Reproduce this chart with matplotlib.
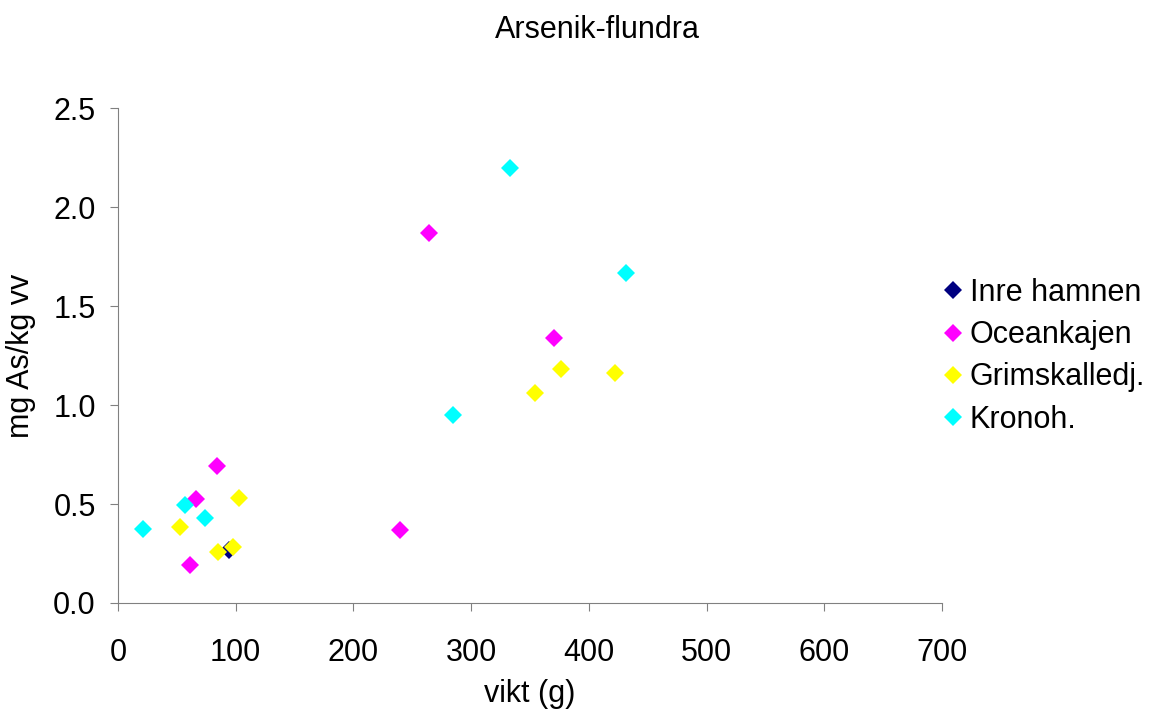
import matplotlib.pyplot as plt

plt.rcParams['font.family'] = ['Liberation Sans', 'DejaVu Sans']

# vikt (g) and mg As/kg vv per site
inre_x = [94]
inre_y = [0.27]
ocean_x = [84, 66, 61, 240, 264, 370]
ocean_y = [0.69, 0.525, 0.19, 0.37, 1.87, 1.34]
grim_x = [103, 53, 85, 98, 354, 376, 422]
grim_y = [0.53, 0.385, 0.26, 0.285, 1.06, 1.18, 1.16]
krono_x = [21, 57, 74, 285, 333, 432]
krono_y = [0.375, 0.495, 0.43, 0.95, 2.2, 1.67]

fig = plt.figure(figsize=(11.49, 7.17), dpi=100)
ax = fig.add_axes([0.1027, 0.159, 0.7171, 0.69])

ms = 9.2
ax.plot(inre_x, inre_y, 'D', color='#000080', ms=ms, mew=0, label='Inre hamnen')
ax.plot(ocean_x, ocean_y, 'D', color='#ff00ff', ms=ms, mew=0, label='Oceankajen')
ax.plot(grim_x, grim_y, 'D', color='#ffff00', ms=ms, mew=0, label='Grimskalledj.')
ax.plot(krono_x, krono_y, 'D', color='#00ffff', ms=ms, mew=0, label='Kronoh.')

ax.set_xlim(0, 700)
ax.set_ylim(0, 2.5)
ax.set_xticks(range(0, 701, 100))
ax.set_yticks([0, 0.5, 1.0, 1.5, 2.0, 2.5])
ax.set_yticklabels(['0.0', '0.5', '1.0', '1.5', '2.0', '2.5'])
ax.tick_params(labelsize=22, length=6, direction='out', color='#808080')
ax.tick_params(axis='x', pad=19)
ax.tick_params(axis='y', pad=10)
for side in ['top', 'right']:
    ax.spines[side].set_visible(False)
for side in ['left', 'bottom']:
    ax.spines[side].set_color('#808080')

ax.set_xlabel('vikt (g)', fontsize=22, labelpad=8)
ax.set_ylabel('mg As/kg vv', fontsize=22, labelpad=12)
fig.text(0.52, 0.958, 'Arsenik-flundra', fontsize=22, ha='center', va='center')

fig.legend(loc='center left', bbox_to_anchor=(0.795, 0.503), frameon=False,
           fontsize=22, markerscale=1.0, handletextpad=0.15,
           handlelength=0.8, labelspacing=0.4)

fig.savefig('out.png', dpi=100)
